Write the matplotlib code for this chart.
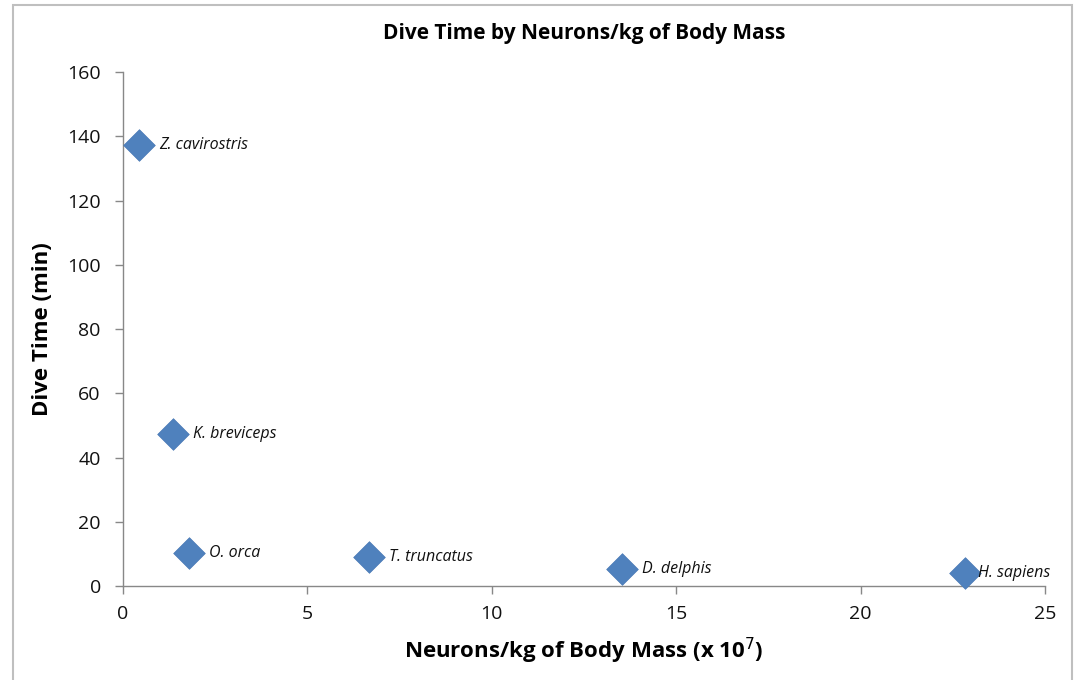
import matplotlib.pyplot as plt
from matplotlib.patches import Rectangle

plt.rcParams['font.family'] = ['Open Sans', 'DejaVu Sans']

species = ['Z. cavirostris', 'K. breviceps', 'O. orca', 'T. truncatus',
           'D. delphis', 'H. sapiens']
neurons_per_kg = [0.43, 1.36, 1.79, 6.67, 13.52, 22.82]
dive_time = [137.3, 47.3, 10.3, 9.0, 5.3, 4.0]

fig = plt.figure(figsize=(10.76, 6.8), dpi=100)
ax = fig.add_axes([0.1143, 0.1382, 0.8569, 0.7559])

# grey frame around the whole chart
fig.patches.append(Rectangle((13 / 1076, -0.05), (1072 - 13) / 1076, 1.05 - 5 / 680,
                             transform=fig.transFigure, fill=False,
                             edgecolor='#bfbfbf', linewidth=1.5))

ax.scatter(neurons_per_kg, dive_time, marker='D', s=260, color='#4f81bd',
           edgecolor='#4a7ab5', linewidth=0.5, zorder=3, clip_on=False)

for name, x, y in zip(species, neurons_per_kg, dive_time):
    dx = 0.35 if name == 'H. sapiens' else 0.55
    ax.text(x + dx, y, name, style='italic', fontsize=11.5, va='center',
            ha='left', color='#111111')

ax.set_xlim(0, 25)
ax.set_ylim(0, 160)
ax.set_xticks(range(0, 26, 5))
ax.set_yticks(range(0, 161, 20))

for side in ['top', 'right']:
    ax.spines[side].set_visible(False)
for side in ['left', 'bottom']:
    ax.spines[side].set_color('#888888')
    ax.spines[side].set_linewidth(1.0)
ax.tick_params(axis='both', colors='#888888', labelcolor='#111111',
               labelsize=14, length=6, width=1.0)
ax.tick_params(axis='x', pad=8)
ax.tick_params(axis='y', pad=10)

ax.set_title('Dive Time by Neurons/kg of Body Mass', fontsize=15,
             fontweight='bold', pad=24)
ax.set_xlabel('Neurons/kg of Body Mass (x 10$^{7}$)', fontsize=16,
              fontweight='bold', labelpad=9)
ax.set_ylabel('Dive Time (min)', fontsize=16, fontweight='bold', labelpad=10)

fig.savefig('out.png', dpi=100)
